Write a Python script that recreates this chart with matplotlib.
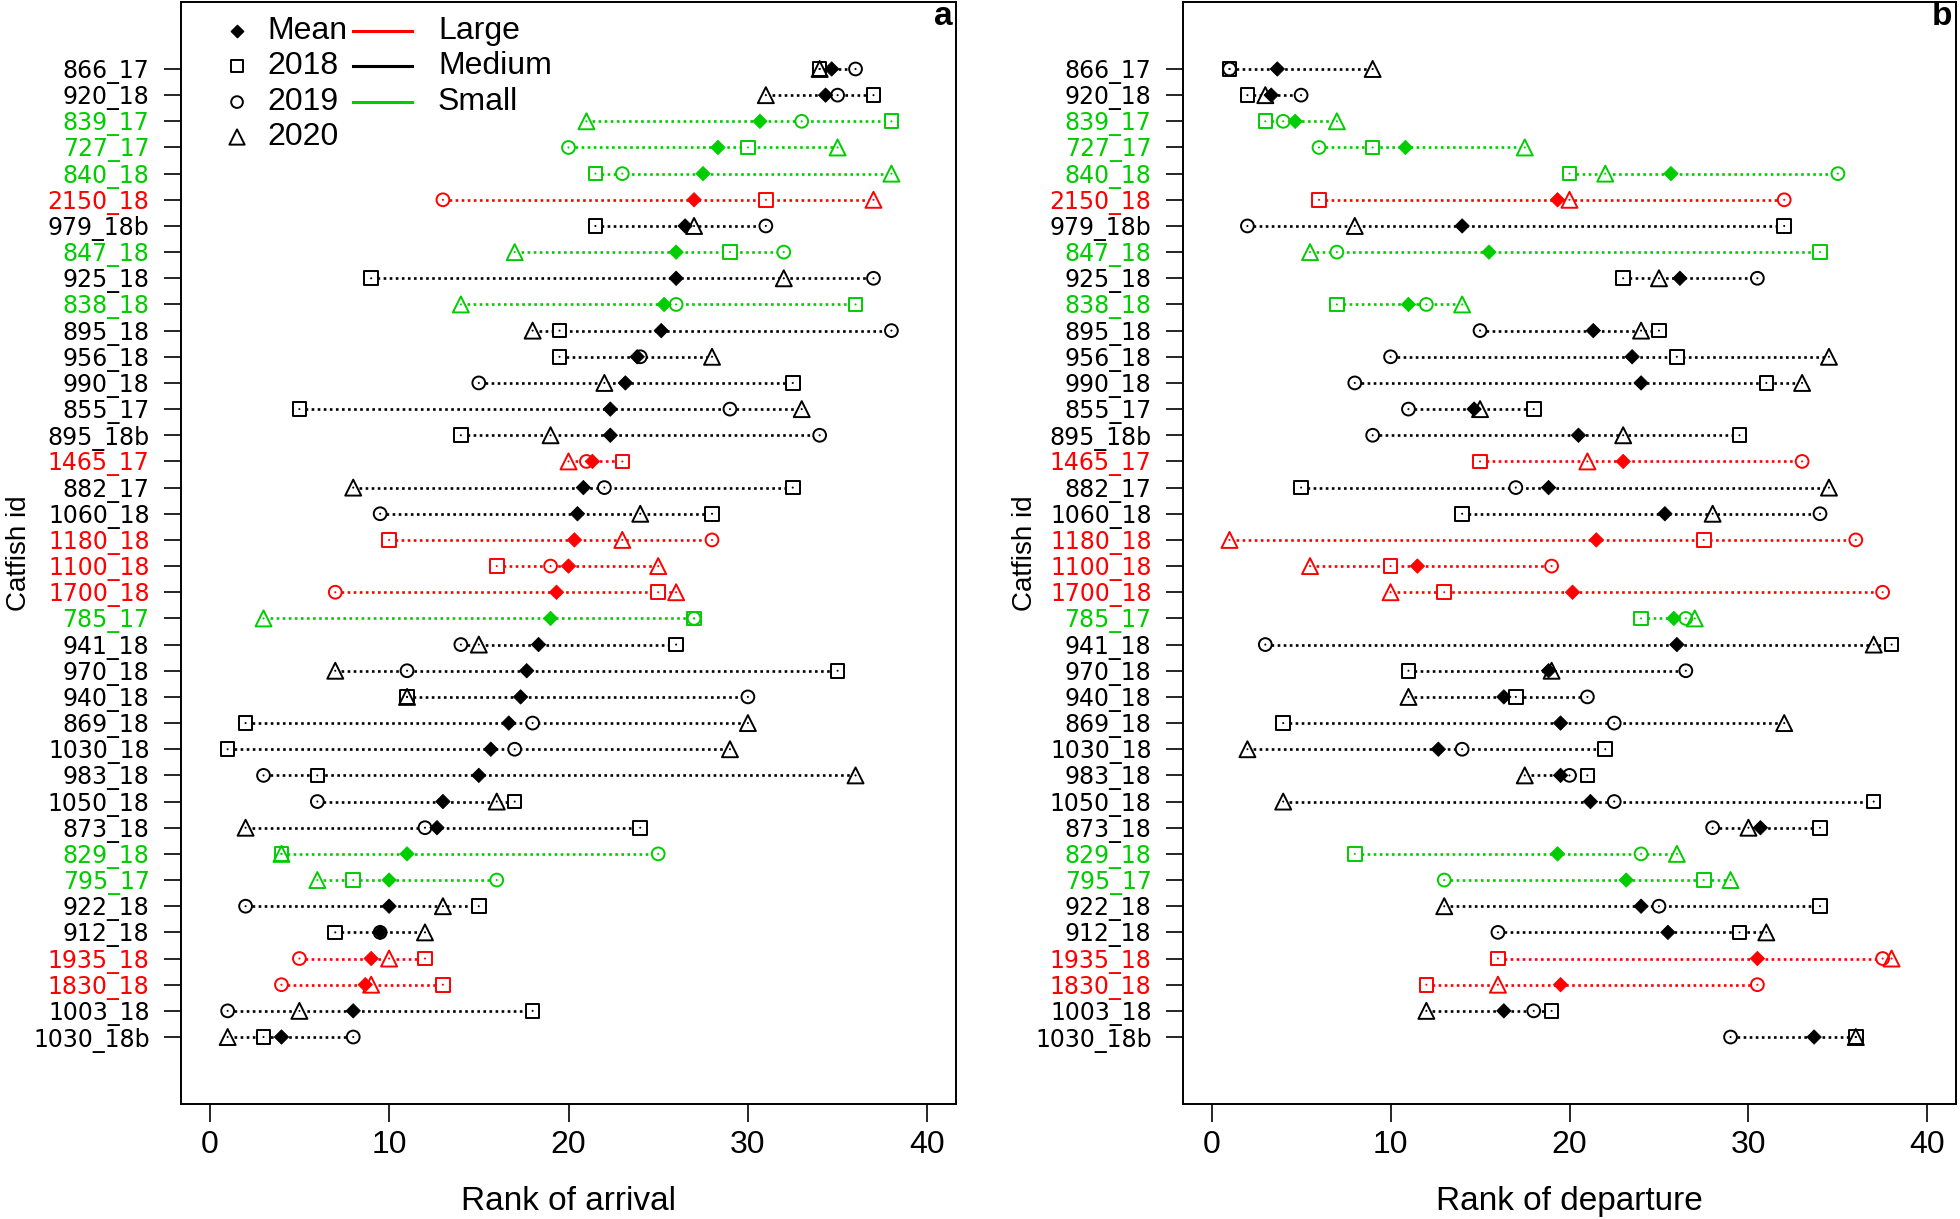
import numpy as np
import matplotlib
matplotlib.use('Agg')
import matplotlib.pyplot as plt
from matplotlib import font_manager

# ---------------- data ----------------
ids = ['866_17', '920_18', '839_17', '727_17', '840_18', '2150_18', '979_18b', '847_18',
       '925_18', '838_18', '895_18', '956_18', '990_18', '855_17', '895_18b', '1465_17',
       '882_17', '1060_18', '1180_18', '1100_18', '1700_18', '785_17', '941_18', '970_18',
       '940_18', '869_18', '1030_18', '983_18', '1050_18', '873_18', '829_18', '795_17',
       '922_18', '912_18', '1935_18', '1830_18', '1003_18', '1030_18b']
size_class = ['M', 'M', 'S', 'S', 'S', 'L', 'M', 'S', 'M', 'S', 'M', 'M', 'M', 'M', 'M', 'L',
              'M', 'M', 'L', 'L', 'L', 'S', 'M', 'M', 'M', 'M', 'M', 'M', 'M', 'M', 'S', 'S',
              'M', 'M', 'L', 'L', 'M', 'M']

arr_2018 = [34, 37, 38, 30, 21.5, 31, 21.5, 29, 9, 36, 19.5, 19.5, 32.5, 5, 14, 23, 32.5, 28,
            10, 16, 25, 27, 26, 35, 11, 2, 1, 6, 17, 24, 4, 8, 15, 7, 12, 13, 18, 3]
arr_2019 = [36, 35, 33, 20, 23, 13, 31, 32, 37, 26, 38, 24, 15, 29, 34, 21, 22, 9.5,
            28, 19, 7, 27, 14, 11, 30, 18, 17, 3, 6, 12, 25, 16, 2, 9.5, 5, 4, 1, 8]
arr_2020 = [34, 31, 21, 35, 38, 37, 27, 17, 32, 14, 18, 28, 22, 33, 19, 20, 8, 24,
            23, 25, 26, 3, 15, 7, 11, 30, 29, 36, 16, 2, 4, 6, 13, 12, 10, 9, 5, 1]
arr_mean = [34.67, 34.33, 30.67, 28.33, 27.5, 27, 26.5, 26, 26, 25.33, 25.17, 23.83, 23.17,
            22.33, 22.33, 21.33, 20.83, 20.5, 20.33, 20, 19.33, 19, 18.33, 17.67, 17.33,
            16.67, 15.67, 15, 13, 12.67, 11, 10, 10, 9.5, 9, 8.67, 8, 4]

dep_2018 = [1, 2, 3, 9, 20, 6, 32, 34, 23, 7, 25, 26, 31, 18, 29.5, 15, 5, 14, 27.5, 10,
            13, 24, 38, 11, 17, 4, 22, 21, 37, 34, 8, 27.5, 34, 29.5, 16, 12, 19, 36]
dep_2019 = [1, 5, 4, 6, 35, 32, 2, 7, 30.5, 12, 15, 10, 8, 11, 9, 33, 17, 34, 36, 19,
            37.5, 26.5, 3, 26.5, 21, 22.5, 14, 20, 22.5, 28, 24, 13, 25, 16, 37.5, 30.5, 18, 29]
dep_2020 = [9, 3, 7, 17.5, 22, 20, 8, 5.5, 25, 14, 24, 34.5, 33, 15, 23, 21, 34.5, 28, 1,
            5.5, 10, 27, 37, 19, 11, 32, 2, 17.5, 4, 30, 26, 29, 13, 31, 38, 16, 12, 36]
dep_mean = [3.67, 3.33, 4.67, 10.83, 25.67, 19.33, 14, 15.5, 26.17, 11, 21.33, 23.5, 24,
            14.67, 20.5, 23, 18.83, 25.33, 21.5, 11.5, 20.17, 25.83, 26, 18.83, 16.33, 19.5,
            12.67, 19.5, 21.17, 30.67, 19.33, 23.17, 24, 25.5, 30.5, 19.5, 16.33, 33.67]

x_ticks = [0, 10, 20, 30, 40]
class_colors = {'L': '#FF0000', 'M': '#000000', 'S': '#00CD00'}
legend_years = ['2018', '2019', '2020']
legend_sizes = [('Large', 'L'), ('Medium', 'M'), ('Small', 'S')]

# ---------------- fonts ----------------
avail = {f.name for f in font_manager.fontManager.ttflist}
if 'Liberation Sans Narrow' in avail:
    main_font = ['Liberation Sans Narrow', 'DejaVu Sans']
    fs = 27
else:
    main_font = ['Liberation Sans', 'DejaVu Sans']
    fs = 23
plt.rcParams['font.family'] = main_font

W, H = 1960, 1219
fig = plt.figure(figsize=(W / 100, H / 100), dpi=100)
axA = fig.add_axes([181 / W, 1 - 1104 / H, 775 / W, 1102 / H])
axB = fig.add_axes([1183 / W, 1 - 1104 / H, 773 / W, 1102 / H])

markers = {'2018': ('s', 9.8), '2019': ('o', 9.2), '2020': ('^', 11.5)}
leg_markers = {'2018': ('s', 8.6), '2019': ('o', 8.4), '2020': ('^', 11.0)}
DIAMOND_MS = 7.3


def draw(ax, v18, v19, v20, vm, xlabel, letter, ylab_x):
    n = len(ids)
    y = np.arange(n)
    cols = [class_colors[c] for c in size_class]
    v18 = np.asarray(v18, float)
    v19 = np.asarray(v19, float)
    v20 = np.asarray(v20, float)
    vm = np.asarray(vm, float)
    lo = np.minimum(np.minimum(v18, v19), v20)
    hi = np.maximum(np.maximum(v18, v19), v20)
    ax.hlines(y, lo, hi, colors=cols, linestyles=[(0, (1.0, 1.3))], linewidth=1.9, zorder=1)
    series = [('2018', v18), ('2019', v19), ('2020', v20)]
    for key, v in series:
        m, ms = markers[key]
        ax.scatter(v, y, marker=m, s=ms ** 2, facecolors='white', edgecolors='none', zorder=2)
    for key, v in series:
        m, ms = markers[key]
        ax.scatter(v, y, marker=m, s=ms ** 2, facecolors='none', edgecolors=cols,
                   linewidths=1.4, zorder=3)
        ax.scatter(v, y, marker='o', s=2.2, color=cols, linewidths=0, zorder=3)
    ax.scatter(vm, y, marker='D', s=DIAMOND_MS ** 2, color=cols, linewidths=0.6,
               edgecolors=cols, zorder=4)

    ax.set_xlim(-1.6, 41.6)
    ax.set_ylim(n + 1.56, -2.56)
    ax.set_xticks(x_ticks)
    ax.set_xticklabels([str(t) for t in x_ticks])
    ax.set_yticks(y)
    ax.set_yticklabels(ids, fontfamily='DejaVu Sans', fontsize=17)
    for lab, c in zip(ax.get_yticklabels(), cols):
        lab.set_color(c)
    ax.tick_params(axis='x', length=12.6, width=1.2, pad=6, labelsize=fs)
    ax.tick_params(axis='y', length=12.6, width=1.2, pad=10)
    for sp in ax.spines.values():
        sp.set_linewidth(1.4)
    ax.set_xlabel(xlabel, fontsize=fs + 1)
    ax.xaxis.set_label_coords(0.5, -0.074)
    ax.set_ylabel('Catfish id', fontsize=fs - 3)
    ax.yaxis.set_label_coords(ylab_x, 0.5)
    ax.text(0.995, 0.979, letter, transform=ax.transAxes, ha='right', va='baseline',
            fontsize=24, fontweight='bold', family=['Liberation Sans', 'DejaVu Sans'])


draw(axA, arr_2018, arr_2019, arr_2020, arr_mean, 'Rank of arrival', 'a', -0.192)
draw(axB, dep_2018, dep_2019, dep_2020, dep_mean, 'Rank of departure', 'b', -0.1876)

# ---------------- legend (panel a) ----------------
rows_y = [0.9737, 0.942, 0.9092, 0.8775]
mx, tx = 0.0723, 0.111
axA.scatter([mx], [rows_y[0]], marker='D', s=6.3 ** 2, color='black', transform=axA.transAxes,
            clip_on=False, zorder=5)
axA.text(tx, rows_y[0], 'Mean', transform=axA.transAxes, va='center', ha='left', fontsize=fs)
for yy, key in zip(rows_y[1:], legend_years):
    m, ms = leg_markers[key]
    axA.scatter([mx], [yy], marker=m, s=ms ** 2, facecolors='none', edgecolors='black',
                linewidths=1.4, transform=axA.transAxes, clip_on=False, zorder=5)
    axA.text(tx, yy, key, transform=axA.transAxes, va='center', ha='left', fontsize=fs)
for yy, (lab, c) in zip(rows_y[:3], legend_sizes):
    axA.plot([0.222, 0.298], [yy, yy], color=class_colors[c], lw=2.2,
             transform=axA.transAxes, clip_on=False, zorder=5)
    axA.text(0.3316, yy, lab, transform=axA.transAxes, va='center', ha='left', fontsize=fs)

fig.savefig('out.png', dpi=100)
